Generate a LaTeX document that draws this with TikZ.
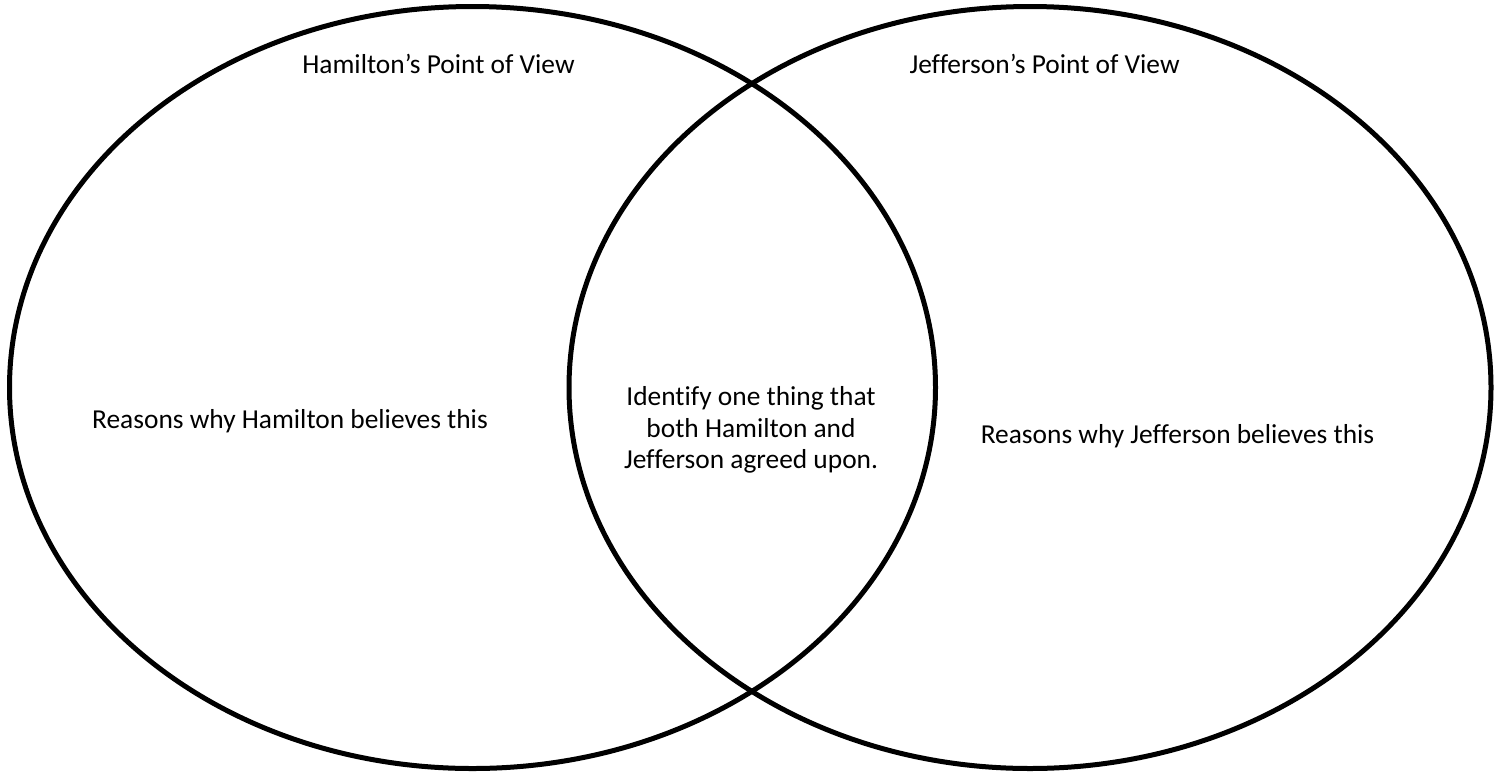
\documentclass[tikz,border=0pt]{standalone}
\usepackage{fontspec}
\setmainfont[Ligatures=CommonOff]{Carlito}
\usepackage{tikz}
\usetikzlibrary{shapes.geometric,positioning}

\begin{document}
\begin{tikzpicture}[x=0.5pt,y=-0.5pt,font=\fontsize{13.7}{15.8}\selectfont]
  \tikzstyle{venn}=[draw,ellipse,line width=2.5pt,inner sep=0pt]
  \tikzstyle{lbl}=[inner sep=0pt,align=center]
  \useasboundingbox (0,0) rectangle (1504,772);
  \node[venn,minimum width=463pt,minimum height=381pt] (ham) at (472.5,387.5) {};
  \node[venn,minimum width=461pt,minimum height=381pt] (jef) at (1030,387.5) {};
  \node[lbl,anchor=base west] (hpov) at (302,73) {Hamilton’s Point of View};
  \node[lbl,anchor=base east] (jpov) at (1180,73) {Jefferson’s Point of View};
  \node[lbl] (hwhy) at (290,421) {Reasons why Hamilton believes this};
  \node[lbl] (jwhy) at (1177.5,436) {Reasons why Jefferson believes this};
  \node[lbl] (both) at (751,430) {Identify one thing that\\ both Hamilton and\\ Jefferson agreed upon.};
\end{tikzpicture}
\end{document}
